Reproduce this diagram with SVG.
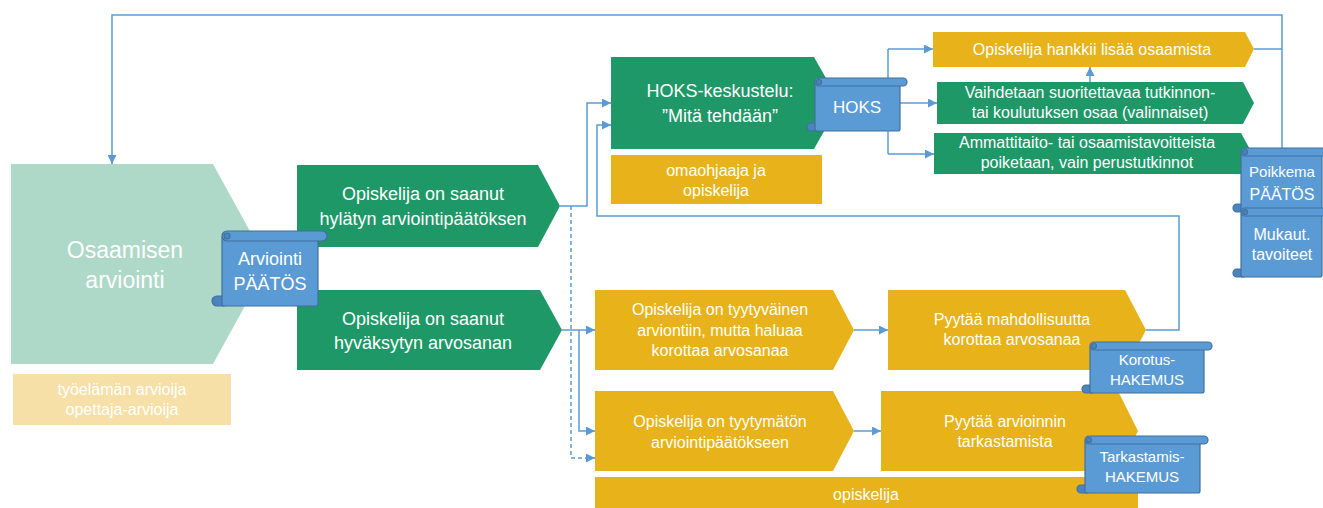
<svg xmlns="http://www.w3.org/2000/svg" width="1323" height="508" viewBox="0 0 1323 508">
<style>
.t{font-family:"Liberation Sans",Arial,sans-serif;fill:#fff;text-anchor:middle}
.g{fill:#1F9868}
.y{fill:#E8B31A}
.lg{fill:#AED8C7}
.py{fill:#F6E0A7}
.sb{fill:#5B9BD5;stroke:#41719C;stroke-width:1.2}
.sc{fill:#4A84BE;stroke:#41719C;stroke-width:1.2}
.c{fill:none;stroke:#5B9BD5;stroke-width:1.5}
.d{stroke-dasharray:4 3}
</style>
<defs>
<marker id="ah" viewBox="0 0 10 10" refX="10" refY="5" markerUnits="userSpaceOnUse" markerWidth="9" markerHeight="9" orient="auto">
<path d="M0,0 L10,5 L0,10 z" fill="#5B9BD5"/>
</marker>
</defs>
<rect width="1323" height="508" fill="#fff"/>

<g id="connectors">
<path class="c" d="M1282,148 V15 H112 V164" marker-end="url(#ah)"/>
<path class="c" d="M1254,49 H1282"/>
<path class="c" d="M560,206 H587 V103 H611" marker-end="url(#ah)"/>
<path class="c d" d="M571,206 V458 H595" marker-end="url(#ah)"/>
<path class="c" d="M562,330 H595" marker-end="url(#ah)"/>
<path class="c" d="M579,330 V431 H595" marker-end="url(#ah)"/>
<path class="c" d="M854,330 H888" marker-end="url(#ah)"/>
<path class="c" d="M854,431 H881" marker-end="url(#ah)"/>
<path class="c" d="M1146,330 H1179 V216 H597 V125 H611" marker-end="url(#ah)"/>
<path class="c" d="M888,49 V154"/>
<path class="c" d="M888,49 H933" marker-end="url(#ah)"/>
<path class="c" d="M899,103 H937" marker-end="url(#ah)"/>
<path class="c" d="M888,154 H934" marker-end="url(#ah)"/>
<path class="c" d="M1090,82 V67" marker-end="url(#ah)"/>
</g>

<g id="osaamisen">
<path class="lg" d="M11,164 L213,164 L268,264 L213,364 L11,364 Z"/>
<text class="t" x="125" y="258" font-size="23">Osaamisen</text>
<text class="t" x="125" y="288" font-size="23">arviointi</text>
</g>

<g id="arvioijat">
<rect class="py" x="13" y="374" width="218" height="51"/>
<text class="t" x="122" y="395" font-size="16">työelämän arvioija</text>
<text class="t" x="122" y="415" font-size="16">opettaja-arvioija</text>
</g>

<g id="hylatty">
<path class="g" d="M297,165 L538,165 L560,206 L538,247 L297,247 Z"/>
<text class="t" x="423" y="200" font-size="18">Opiskelija on saanut</text>
<text class="t" x="423" y="225" font-size="18">hylätyn arviointipäätöksen</text>
</g>

<g id="hyvaksytty">
<path class="g" d="M297,290 L540,290 L562,330 L540,370 L297,370 Z"/>
<text class="t" x="423" y="325" font-size="18">Opiskelija on saanut</text>
<text class="t" x="423" y="349" font-size="18">hyväksytyn arvosanan</text>
</g>

<g id="arviointi-paatos">
<rect class="sc" x="212" y="296" width="16" height="10" rx="5"/>
<rect class="sb" x="222" y="236" width="96" height="70" rx="2"/>
<rect class="sb" x="222" y="231" width="105" height="10" rx="5"/>
<circle class="sc" cx="227" cy="236" r="3"/>
<text class="t" x="270" y="265" font-size="18">Arviointi</text>
<text class="t" x="270" y="290" font-size="18">PÄÄTÖS</text>
</g>

<g id="hoks-keskustelu">
<path class="g" d="M611,57 L814,57 L840,103 L814,149 L611,149 Z"/>
<text class="t" x="720" y="97" font-size="18">HOKS-keskustelu:</text>
<text class="t" x="720" y="122" font-size="18">”Mitä tehdään”</text>
</g>

<g id="omaohjaaja">
<rect class="y" x="611" y="155" width="211" height="49"/>
<text class="t" x="716" y="176" font-size="16">omaohjaaja ja</text>
<text class="t" x="716" y="196" font-size="16">opiskelija</text>
</g>

<g id="hoks">
<rect class="sc" x="807" y="123" width="14" height="8" rx="4"/>
<rect class="sb" x="815" y="82" width="85" height="49" rx="2"/>
<rect class="sb" x="815" y="78" width="92" height="8" rx="4"/>
<circle class="sc" cx="819" cy="82" r="2.5"/>
<text class="t" x="857" y="113" font-size="17">HOKS</text>
</g>

<g id="hankkii">
<path class="y" d="M933,32 L1245,32 L1254,49 L1245,67 L933,67 Z"/>
<text class="t" x="1092" y="55" font-size="16">Opiskelija hankkii lisää osaamista</text>
</g>

<g id="vaihdetaan">
<path class="g" d="M937,82 L1243,82 L1254,103 L1243,124 L937,124 Z"/>
<text class="t" x="1090" y="98" font-size="16">Vaihdetaan suoritettavaa tutkinnon-</text>
<text class="t" x="1090" y="118" font-size="16">tai koulutuksen osaa (valinnaiset)</text>
</g>

<g id="ammattitaito">
<path class="g" d="M934,133 L1241,133 L1252,153 L1241,174 L934,174 Z"/>
<text class="t" x="1087" y="148" font-size="16">Ammattitaito- tai osaamistavoitteista</text>
<text class="t" x="1087" y="168" font-size="16">poiketaan, vain perustutkinnot</text>
</g>

<g id="poikkema">
<rect class="sc" x="1233" y="204" width="14" height="8" rx="4"/>
<rect class="sb" x="1241" y="152" width="81" height="60" rx="2"/>
<rect class="sb" x="1241" y="148" width="90" height="8" rx="4"/>
<circle class="sc" cx="1245" cy="152" r="2.5"/>
<text class="t" x="1282" y="177" font-size="15">Poikkema</text>
<text class="t" x="1282" y="200" font-size="16">PÄÄTÖS</text>
</g>

<g id="mukaut">
<rect class="sc" x="1233" y="269" width="14" height="8" rx="4"/>
<rect class="sb" x="1241" y="212" width="81" height="65" rx="2"/>
<rect class="sb" x="1241" y="208" width="90" height="8" rx="4"/>
<circle class="sc" cx="1245" cy="212" r="2.5"/>
<text class="t" x="1282" y="240" font-size="16">Mukaut.</text>
<text class="t" x="1282" y="260" font-size="16">tavoiteet</text>
</g>

<g id="tyytyvainen">
<path class="y" d="M595,290 L833,290 L854,330 L833,370 L595,370 Z"/>
<text class="t" x="720" y="315" font-size="16">Opiskelija on tyytyväinen</text>
<text class="t" x="720" y="336" font-size="16">arviontiin, mutta haluaa</text>
<text class="t" x="720" y="356" font-size="16">korottaa arvosanaa</text>
</g>

<g id="tyytymaton">
<path class="y" d="M595,391 L833,391 L854,431 L833,471 L595,471 Z"/>
<text class="t" x="720" y="427" font-size="16">Opiskelija on tyytymätön</text>
<text class="t" x="720" y="448" font-size="16">arviointipäätökseen</text>
</g>

<g id="opiskelija">
<rect class="y" x="595" y="477" width="543" height="35"/>
<text class="t" x="866" y="500" font-size="16">opiskelija</text>
</g>

<g id="korotus-pyynto">
<path class="y" d="M888,290 L1125,290 L1146,330 L1125,370 L888,370 Z"/>
<text class="t" x="1012" y="325" font-size="16">Pyytää mahdollisuutta</text>
<text class="t" x="1012" y="345" font-size="16">korottaa arvosanaa</text>
</g>

<g id="tarkastus-pyynto">
<path class="y" d="M881,391 L1118,391 L1138,431 L1118,471 L881,471 Z"/>
<text class="t" x="1005" y="427" font-size="16">Pyytää arvioinnin</text>
<text class="t" x="1005" y="447" font-size="16">tarkastamista</text>
</g>

<g id="korotus-hakemus">
<rect class="sc" x="1082" y="385" width="14" height="8" rx="4"/>
<rect class="sb" x="1090" y="346" width="114" height="47" rx="2"/>
<rect class="sb" x="1090" y="342" width="122" height="8" rx="4"/>
<circle class="sc" cx="1094" cy="346" r="2.5"/>
<text class="t" x="1147" y="365" font-size="15">Korotus-</text>
<text class="t" x="1147" y="385" font-size="15">HAKEMUS</text>
</g>

<g id="tarkastamis-hakemus">
<rect class="sc" x="1077" y="485" width="14" height="8" rx="4"/>
<rect class="sb" x="1085" y="440" width="115" height="53" rx="2"/>
<rect class="sb" x="1085" y="436" width="123" height="8" rx="4"/>
<circle class="sc" cx="1089" cy="440" r="2.5"/>
<text class="t" x="1142" y="462" font-size="15">Tarkastamis-</text>
<text class="t" x="1142" y="482" font-size="15">HAKEMUS</text>
</g>
</svg>
